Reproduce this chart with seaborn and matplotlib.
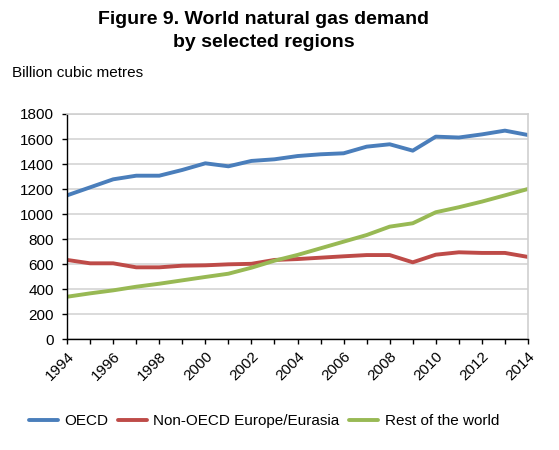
import numpy as np
import pandas as pd
import matplotlib
matplotlib.use("Agg")
import matplotlib.pyplot as plt
import seaborn as sns

# ==================== 数据 ====================
years = list(range(1994, 2015))
oecd = [1150, 1214, 1278, 1307, 1307, 1353, 1406, 1382, 1425, 1438, 1464,
        1478, 1486, 1539, 1558, 1507, 1619, 1612, 1637, 1667, 1632]
non_oecd_eurasia = [634, 607, 607, 575, 575, 588, 591, 599, 603, 634, 641,
                    652, 663, 673, 673, 615, 676, 695, 690, 690, 658]
rest_world = [340, 367, 391, 420, 444, 471, 498, 524, 572, 628, 674,
              727, 780, 833, 900, 927, 1015, 1055, 1100, 1150, 1201]

series_names = ["OECD", "Non-OECD Europe/Eurasia", "Rest of the world"]
colors = ["#4a7ebb", "#be4b48", "#98b954"]

df = pd.DataFrame({"Year": years,
                   series_names[0]: oecd,
                   series_names[1]: non_oecd_eurasia,
                   series_names[2]: rest_world})
long_df = df.melt(id_vars="Year", var_name="Region", value_name="Demand")

# ==================== 绘图 ====================
sns.set_style("white")
plt.rcParams["font.family"] = ["Liberation Sans", "DejaVu Sans"]
plt.rcParams["text.color"] = "black"
plt.rcParams["xtick.color"] = "black"
plt.rcParams["ytick.color"] = "black"

fig = plt.figure(figsize=(5.59, 4.5), dpi=100)
ax = fig.add_axes([0.12, 0.246, 0.8245, 0.5007])

sns.lineplot(data=long_df, x="Year", y="Demand", hue="Region",
             hue_order=series_names, palette=colors, linewidth=2.8, ax=ax)

ax.set_xlim(1994, 2014)
ax.set_ylim(0, 1800)
ax.set_yticks(range(0, 1801, 200))
ax.set_xticks(years, minor=True)
ax.set_xticks(range(1994, 2015, 2))
ax.set_xticklabels([str(y) for y in range(1994, 2015, 2)], rotation=45,
                   ha="right", rotation_mode="anchor", fontsize=11)
ax.tick_params(axis="y", labelsize=11, length=3.6, width=1, color="black",
               direction="out", left=True, pad=6)
ax.tick_params(axis="x", which="both", length=3.6, width=1, color="black",
               direction="out", bottom=True)
ax.grid(axis="y", color="#d4d4d4", linewidth=1.2)
ax.set_axisbelow(True)

for side in ["left", "bottom"]:
    ax.spines[side].set_color("black")
    ax.spines[side].set_linewidth(1)
for side in ["top", "right"]:
    ax.spines[side].set_color("#cfcfcf")
    ax.spines[side].set_linewidth(1.2)

ax.set_xlabel("")
ax.set_ylabel("")

fig.text(0.472, 0.975, "Figure 9. World natural gas demand\nby selected regions",
         ha="center", va="top", fontsize=14, fontweight="bold", linespacing=1.45)
fig.text(0.022, 0.838, "Billion cubic metres", ha="left", va="center", fontsize=11)

handles, labels = ax.get_legend_handles_labels()
ax.legend(handles, labels, loc="center", bbox_to_anchor=(0.472, 0.064),
          bbox_transform=fig.transFigure, ncol=3, frameon=False, fontsize=11,
          handlelength=1.9, handletextpad=0.45, columnspacing=0.6)

fig.savefig("out.png", dpi=100)
